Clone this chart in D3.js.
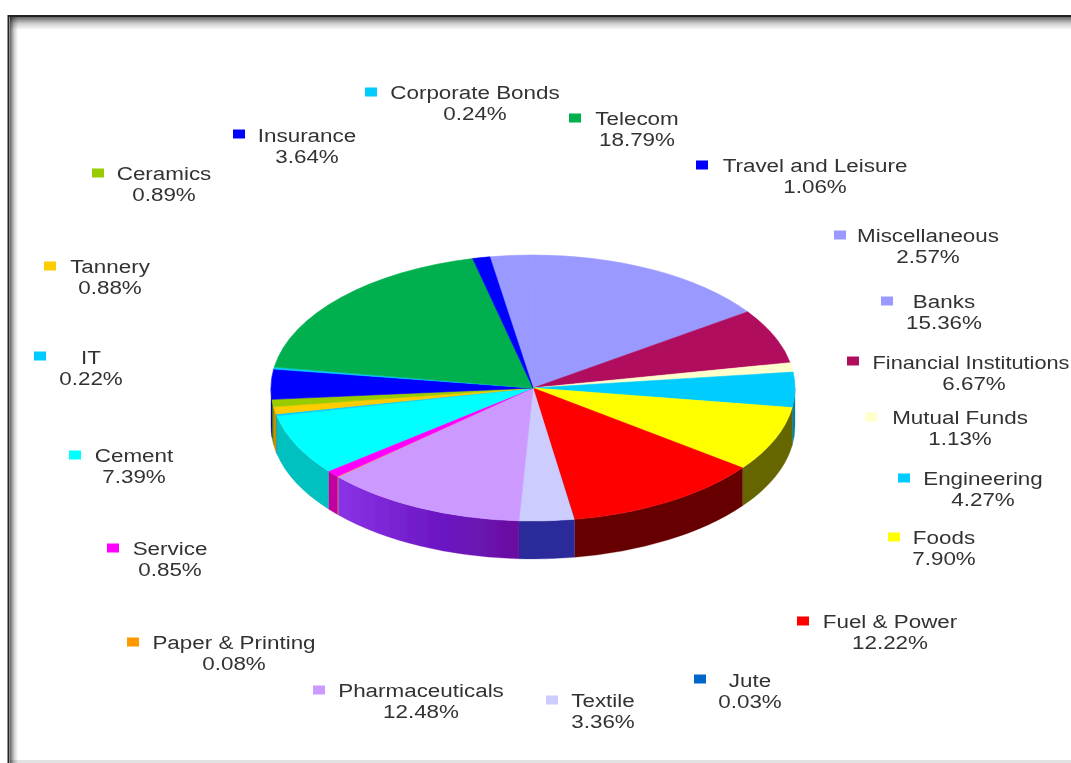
<!DOCTYPE html>
<html>
<head>
<meta charset="utf-8">
<script src="https://cdn.jsdelivr.net/npm/d3@7/dist/d3.min.js"></script>
<style>
html, body { margin: 0; padding: 0; background: #fff; overflow: hidden; }
svg { display: block; }
text { font-family: "Liberation Sans", Arial, sans-serif; font-size: 19px; fill: #333; }
</style>
</head>
<body>
<div id="chart"></div>
<script>
// Set dimensions
const width = 1071;
const height = 763;

// Chart values, clockwise from the top of the pie
const sectors = ['Miscellaneous', 'Banks', 'Financial Institutions', 'Mutual Funds', 'Engineering', 'Foods',
    'Fuel & Power', 'Jute', 'Textile', 'Pharmaceuticals', 'Paper & Printing', 'Service', 'Cement', 'IT',
    'Tannery', 'Ceramics', 'Insurance', 'Corporate Bonds', 'Telecom', 'Travel and Leisure'];
const shares = [2.57, 15.36, 6.67, 1.13, 4.27, 7.90, 12.22, 0.03, 3.36, 12.48, 0.08, 0.85, 7.39, 0.22,
    0.88, 0.89, 3.64, 0.24, 18.79, 1.06];

// Slice colours, same order as sectors
const topColors = ['#9999ff', '#9999ff', '#b0105f', '#ffffcc', '#00ccff', '#ffff00', '#ff0000', '#0066cc',
    '#ccccff', '#cc99ff', '#ff9900', '#ff00ff', '#00ffff', '#00ccff', '#ffcc00', '#99cc00', '#0000ff',
    '#00ccff', '#00b050', '#0000ff'];
const sideColors = ['#5a5aa0', '#5a5aa0', '#700a3c', '#a0a080', '#007fa0', '#666600', '#660000', '#2a2a9a',
    '#2a2a9a', 'url(#pharmaSide)', '#a06000', '#c000a0', '#00c0c0', '#0090b0', '#c89000', '#607f00', '#0000a0',
    '#0090b0', '#007030', '#0000a0'];

// Legend layout: marker position and text centre for each sector
const labelPos = new Map([
    ['Miscellaneous', { mx: 840, my: 235, tx: 928, ty: 242 }],
    ['Banks', { mx: 887, my: 301, tx: 944, ty: 308 }],
    ['Financial Institutions', { mx: 853, my: 361, tx: 971, ty: 369, stretch: 1.145 }],
    ['Mutual Funds', { mx: 871, my: 417, tx: 960, ty: 424 }],
    ['Engineering', { mx: 904, my: 478, tx: 983, ty: 485 }],
    ['Foods', { mx: 894, my: 537, tx: 944, ty: 544 }],
    ['Fuel & Power', { mx: 803, my: 621, tx: 890, ty: 628 }],
    ['Jute', { mx: 700, my: 679, tx: 750, ty: 687 }],
    ['Textile', { mx: 552, my: 700, tx: 603, ty: 707 }],
    ['Pharmaceuticals', { mx: 319, my: 690, tx: 421, ty: 697 }],
    ['Paper & Printing', { mx: 133, my: 642, tx: 234, ty: 649 }],
    ['Service', { mx: 113, my: 548, tx: 170, ty: 555 }],
    ['Cement', { mx: 75, my: 455, tx: 134, ty: 462 }],
    ['IT', { mx: 40, my: 356, tx: 91, ty: 364 }],
    ['Tannery', { mx: 50, my: 266, tx: 110, ty: 273 }],
    ['Ceramics', { mx: 98, my: 173, tx: 164, ty: 180 }],
    ['Insurance', { mx: 239, my: 134, tx: 307, ty: 142 }],
    ['Corporate Bonds', { mx: 371, my: 92, tx: 475, ty: 99 }],
    ['Telecom', { mx: 575, my: 118, tx: 637, ty: 125 }],
    ['Travel and Leisure', { mx: 702, my: 165, tx: 815, ty: 172 }]
]);

// The labels in the picture are stretched sideways
const textStretch = 1.18;

// Pie geometry
const cx = 533;
const cy = 388;
const rx = 262;
const ry = 133;
const depth = 38;
const startAngle = -9.5 * Math.PI / 180;

const svg = d3.select('#chart')
    .append('svg')
    .attr('width', width)
    .attr('height', height);

const defs = svg.append('defs');

// Soft inner shadow of the picture frame
const edges = [
    { id: 'fadeTop', x2: 0, y2: 1 },
    { id: 'fadeLeft', x2: 1, y2: 0 }
];
edges.forEach(e => {
    const grad = defs.append('linearGradient')
        .attr('id', e.id)
        .attr('x1', 0).attr('y1', 0)
        .attr('x2', e.x2).attr('y2', e.y2);
    grad.append('stop').attr('offset', 0).attr('stop-color', '#666');
    grad.append('stop').attr('offset', 0.5).attr('stop-color', '#ccc');
    grad.append('stop').attr('offset', 1).attr('stop-color', '#fff');
});

const pharmaGrad = defs.append('linearGradient').attr('id', 'pharmaSide');
pharmaGrad.append('stop').attr('offset', 0).attr('stop-color', '#8a33e6');
pharmaGrad.append('stop').attr('offset', 0.6).attr('stop-color', '#6a14c0');
pharmaGrad.append('stop').attr('offset', 1).attr('stop-color', '#6a10a0');

defs.append('filter').attr('id', 'soft')
    .append('feGaussianBlur').attr('stdDeviation', 0.5);

svg.append('rect').attr('x', 10).attr('y', 17).attr('width', width - 10).attr('height', 13).attr('fill', 'url(#fadeTop)');
svg.append('rect').attr('x', 10).attr('y', 17).attr('width', 8).attr('height', height - 17)
    .attr('fill', 'url(#fadeLeft)')
    .style('mix-blend-mode', 'multiply');
svg.append('path')
    .attr('d', d3.line()([[8.5, height], [8.5, 16], [width, 16]]))
    .attr('fill', 'none')
    .attr('stroke', '#222')
    .attr('stroke-width', 2);
svg.append('rect').attr('x', 10).attr('y', height - 3).attr('width', width - 10).attr('height', 3)
    .attr('fill', '#e2e2e2')
    .style('mix-blend-mode', 'multiply');

// Pie layout keeps the given order and starts at the top left
const pie = d3.pie()
    .sort(null)
    .value(d => d.share)
    .startAngle(startAngle)
    .endAngle(startAngle + 2 * Math.PI);

const slices = pie(sectors.map((name, i) => ({
    name: name,
    share: shares[i],
    top: topColors[i],
    side: sideColors[i]
})));

const ellipseX = a => cx + rx * Math.sin(a);
const ellipseY = a => cy - ry * Math.cos(a);

// Wall below one slice, only the front half of the rim is visible
function wallPath(d) {
    const a0 = Math.max(d.startAngle, Math.PI / 2);
    const a1 = Math.min(d.endAngle, Math.PI * 3 / 2);
    if (a1 <= a0) return null;
    return `M${ellipseX(a0)},${ellipseY(a0)}`
        + `A${rx},${ry} 0 0 1 ${ellipseX(a1)},${ellipseY(a1)}`
        + `L${ellipseX(a1)},${ellipseY(a1) + depth}`
        + `A${rx},${ry} 0 0 0 ${ellipseX(a0)},${ellipseY(a0) + depth}Z`;
}

// Hairline slices get no outline, it would show more than their share
const seamStroke = d => d.data.share < 0.1 ? 'none' : null;

const pieGroup = svg.append('g').attr('filter', 'url(#soft)');

pieGroup.selectAll('path.wall')
    .data(slices.filter(d => wallPath(d)))
    .join('path')
    .attr('class', 'wall')
    .attr('d', wallPath)
    .attr('fill', d => d.data.side)
    .attr('stroke', d => seamStroke(d) || d.data.side)
    .attr('stroke-width', 0.3);

const arc = d3.arc().innerRadius(0).outerRadius(rx);

pieGroup.append('g')
    .attr('transform', `translate(${cx},${cy}) scale(1,${ry / rx})`)
    .selectAll('path.top')
    .data(slices)
    .join('path')
    .attr('class', 'top')
    .attr('d', arc)
    .attr('fill', d => d.data.top)
    .attr('stroke', d => seamStroke(d) || d.data.top)
    .attr('stroke-width', 0.8);

// Labels with their colour markers
const labels = svg.append('g')
    .attr('filter', 'url(#soft)')
    .selectAll('g')
    .data(slices)
    .join('g');

labels.append('rect')
    .attr('x', d => labelPos.get(d.data.name).mx - 6)
    .attr('y', d => labelPos.get(d.data.name).my - 4.5)
    .attr('width', 12)
    .attr('height', 9)
    .attr('fill', d => d.data.top);

labels.append('text')
    .attr('transform', d => {
        const p = labelPos.get(d.data.name);
        return `translate(${p.tx},${p.ty}) scale(${p.stretch || textStretch},1)`;
    })
    .attr('text-anchor', 'middle')
    .text(d => d.data.name);

labels.append('text')
    .attr('transform', d => {
        const p = labelPos.get(d.data.name);
        return `translate(${p.tx + (p.stretch ? 3 : 0)},${p.ty + 21}) scale(${textStretch},1)`;
    })
    .attr('text-anchor', 'middle')
    .text(d => d3.format('.2f')(d.data.share) + '%');
</script>
</body>
</html>
